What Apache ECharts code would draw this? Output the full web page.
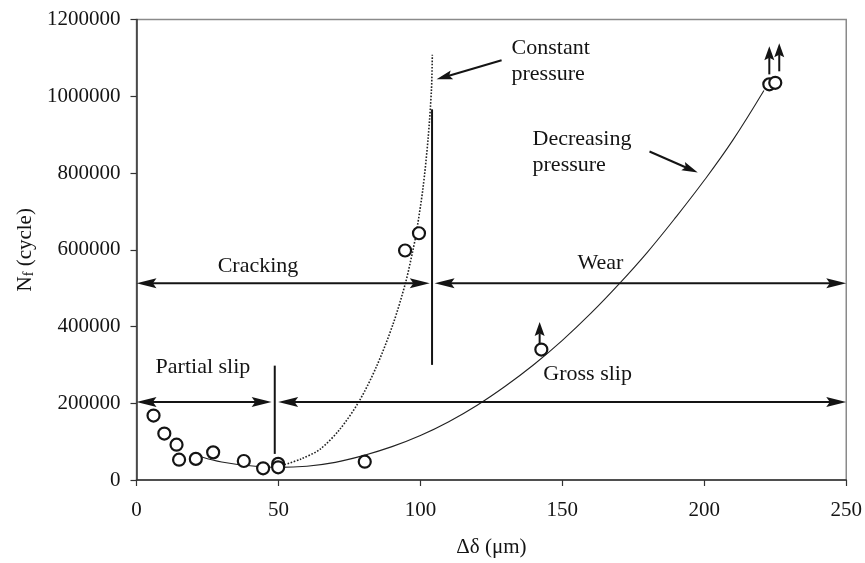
<!DOCTYPE html>
<html>
<head>
<meta charset="utf-8">
<script src="https://cdn.jsdelivr.net/npm/echarts@6/dist/echarts.min.js"></script>
<style>
  html, body { margin: 0; padding: 0; background: #ffffff; }
  #chart { width: 865px; height: 563px; }
</style>
</head>
<body>
<div id="chart"></div>
<script>
// Fretting tests: slip amplitude (µm) vs. cycles to failure
const testSlip   = [6, 9.8, 14.1, 15.0, 20.9, 27.0, 37.8, 44.6, 49.9, 49.9, 80.4, 94.6, 99.5, 142.6, 222.9, 225.0];
const testCycles = [168000, 121000, 92000, 53000, 55000, 72000, 49500, 30500, 42000, 33000, 47700, 598000, 643000, 340000, 1031000, 1035000];

// Life curve, decreasing contact pressure
const decreasingSlip   = [23, 30, 40, 50, 60, 70, 80, 90, 100, 110, 120, 130, 140, 150, 160, 170, 180, 190, 200, 210, 221];
const decreasingCycles = [60000, 47000, 37000, 33000, 36000, 46000, 64000, 87000, 116000, 152000, 195000, 245000, 301000, 364000, 434000, 511000, 594000, 685000, 781000, 885000, 1015000];

// Life curve, constant contact pressure
const constantSlip   = [50, 58, 64.6, 71.6, 78.4, 84.5, 90.4, 94.8, 97.4, 98.5, 100.9, 102.7, 103.9, 104.2];
const constantCycles = [35000, 55000, 80000, 132000, 205000, 295000, 407000, 515000, 600000, 641000, 760000, 889000, 1018000, 1108000];

// Regime boundaries [x1, y1, x2, y2]
const regimeDividers = [
  [104.1, 300000, 104.1, 966000],
  [48.7, 68000, 48.7, 298000]
];
// Double-headed range arrows [x1, y1, x2, y2]
const regimeRanges = [
  [0, 513000, 103.3, 513000],
  [105, 513000, 250, 513000],
  [0, 203000, 47.6, 203000],
  [49.9, 203000, 250, 203000]
];
// Pointers from the curve captions [x1, y1, x2, y2]
const captionPointers = [
  [128.6, 1094000, 105.7, 1044000],
  [180.7, 856000, 197.7, 801000]
];
// Run-out markers (unbroken specimens) [x1, y1, x2, y2]
const runoutMarkers = [
  [142.0, 351000, 142.0, 411500],
  [222.9, 1057000, 222.9, 1130000],
  [226.4, 1065000, 226.4, 1138000]
];

// Captions: text, anchor x, anchor y, alignment
const captionText  = ['Cracking', 'Wear', 'Partial slip', 'Gross slip', 'Constant\npressure', 'Decreasing\npressure'];
const captionX     = [42.8, 163.4, 23.4, 158.9, 132.1, 139.5];
const captionY     = [557000, 566000, 294000, 276000, 1092000, 853000];
const captionAlign = ['center', 'center', 'center', 'center', 'left', 'left'];

const xTickStep = 50, xMax = 250;
const yTickStep = 200000, yMax = 1200000;

const SERIF = '"Liberation Serif", "Times New Roman", serif';
const INK = '#141414';

function pairs(xs, ys) { return xs.map((x, i) => [x, ys[i]]); }

// Builds a segment with optional filled arrow heads at either end
function arrowItem(api, headStart, headEnd, headLen, headHalf, lineWidth) {
  const p1 = api.coord([api.value(0), api.value(1)]);
  const p2 = api.coord([api.value(2), api.value(3)]);
  const dx = p2[0] - p1[0], dy = p2[1] - p1[1];
  const len = Math.hypot(dx, dy) || 1;
  const ux = dx / len, uy = dy / len;
  const nx = -uy, ny = ux;
  const children = [];
  const head = (tip, dir) => {
    const bx = tip[0] - dir * ux * headLen, by = tip[1] - dir * uy * headLen;
    const cx = tip[0] - dir * ux * headLen * 0.82, cy = tip[1] - dir * uy * headLen * 0.82;
    children.push({
      type: 'polygon',
      shape: { points: [tip, [bx + nx * headHalf, by + ny * headHalf], [cx, cy], [bx - nx * headHalf, by - ny * headHalf]] },
      style: { fill: INK }
    });
  };
  const a = headStart ? [p1[0] + ux * headLen * 0.8, p1[1] + uy * headLen * 0.8] : p1;
  const b = headEnd ? [p2[0] - ux * headLen * 0.8, p2[1] - uy * headLen * 0.8] : p2;
  children.push({ type: 'line', shape: { x1: a[0], y1: a[1], x2: b[0], y2: b[1] }, style: { stroke: INK, lineWidth: lineWidth } });
  if (headStart) head(p1, -1);
  if (headEnd) head(p2, 1);
  return { type: 'group', children: children };
}

function arrowSeries(data, headStart, headEnd, headLen, headHalf, lineWidth) {
  return {
    type: 'custom',
    coordinateSystem: 'cartesian2d',
    clip: false,
    silent: true,
    z: 4,
    encode: { x: [0, 2], y: [1, 3] },
    data: data,
    renderItem: (params, api) => arrowItem(api, headStart, headEnd, headLen, headHalf, lineWidth)
  };
}

const chart = echarts.init(document.getElementById('chart'), null, { renderer: 'canvas' });

chart.setOption({
  animation: false,
  backgroundColor: '#ffffff',
  grid: {
    left: 136.5, right: 18, top: 19.5, bottom: 78.5,
    show: true, borderColor: '#8a8a8a', borderWidth: 1.5, backgroundColor: 'transparent'
  },
  xAxis: {
    type: 'value', min: 0, max: xMax, interval: xTickStep,
    name: 'Δδ (μm)', nameLocation: 'middle', nameGap: 57,
    nameTextStyle: { fontFamily: SERIF, fontSize: 21, color: INK },
    axisLine: { show: true, onZero: false, lineStyle: { color: '#333', width: 1.5 } },
    axisTick: { show: true, length: 6, lineStyle: { color: '#333', width: 1.2 } },
    axisLabel: { fontFamily: SERIF, fontSize: 21, color: INK, margin: 20 },
    splitLine: { show: false }
  },
  yAxis: {
    type: 'value', min: 0, max: yMax, interval: yTickStep,
    name: '{n|N}{s|f}{n| (cycle)}', nameLocation: 'middle', nameGap: 100,
    nameTextStyle: {
      fontFamily: SERIF, fontSize: 21, color: INK,
      rich: {
        n: { fontFamily: SERIF, fontSize: 21, color: INK },
        s: { fontFamily: SERIF, fontSize: 14, color: INK, verticalAlign: 'bottom', lineHeight: 18 }
      }
    },
    axisLine: { show: true, onZero: false, lineStyle: { color: '#333', width: 1.5 } },
    axisTick: { show: true, length: 6, lineStyle: { color: '#333', width: 1.2 } },
    axisLabel: { fontFamily: SERIF, fontSize: 21, color: INK, margin: 16, formatter: v => String(v) },
    splitLine: { show: false }
  },
  series: [
    {
      name: 'Decreasing pressure',
      type: 'line',
      data: pairs(decreasingSlip, decreasingCycles),
      smooth: 0.4,
      showSymbol: false,
      silent: true,
      lineStyle: { color: '#222', width: 1.1 },
      z: 2
    },
    {
      name: 'Constant pressure',
      type: 'line',
      data: pairs(constantSlip, constantCycles),
      smooth: 0.3,
      showSymbol: false,
      silent: true,
      lineStyle: { color: '#222', width: 1.6, type: [1.6, 1.6] },
      z: 2
    },
    arrowSeries(regimeDividers, false, false, 0, 0, 2),
    arrowSeries(regimeRanges, true, true, 20, 5, 2),
    arrowSeries(captionPointers, false, true, 16, 4.5, 2),
    arrowSeries(runoutMarkers, false, true, 14, 5, 2),
    {
      name: 'Tests',
      type: 'scatter',
      data: pairs(testSlip, testCycles),
      symbol: 'circle',
      symbolSize: 12,
      silent: true,
      itemStyle: { color: '#ffffff', borderColor: INK, borderWidth: 2.2, opacity: 1 },
      z: 6
    },
    {
      type: 'custom',
      coordinateSystem: 'cartesian2d',
      clip: false,
      silent: true,
      z: 7,
      data: captionText.map((t, i) => [captionX[i], captionY[i], i]),
      renderItem: (params, api) => {
        const i = api.value(2);
        const p = api.coord([api.value(0), api.value(1)]);
        return {
          type: 'text',
          x: p[0], y: p[1],
          style: {
            text: captionText[i],
            font: '22px ' + SERIF,
            fill: INK,
            align: captionAlign[i],
            verticalAlign: 'middle',
            lineHeight: 26
          }
        };
      }
    }
  ]
});
</script>
</body>
</html>
